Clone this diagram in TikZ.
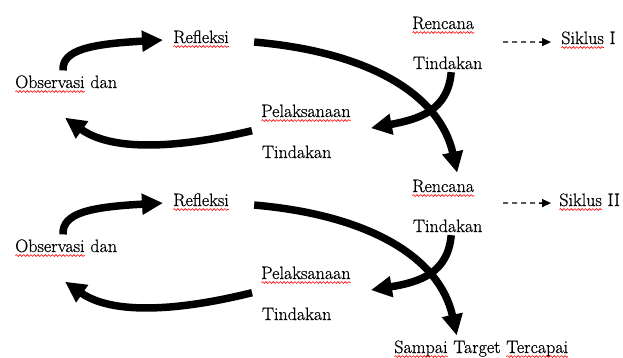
\documentclass[tikz,border=0pt]{standalone}
\usepackage{fontspec}
\newfontfamily\tnrfont[FakeBold=0.6]{Latin Modern Roman}
\usetikzlibrary{arrows.meta,decorations.pathmorphing}
\tikzset{
  lbl/.style={inner sep=0pt, outer sep=0pt, anchor=base west, font=\tnrfont\fontsize{18}{22}\selectfont},
  bigarrow/.style={line width=7.5pt, -{Triangle[length=21pt,width=20pt]}},
  dasharrow/.style={line width=1.4pt, dash pattern=on 5pt off 4pt, -{Triangle[length=9pt,width=8pt]}},
  wavyline/.style={red, line width=0.6pt, decorate, decoration={snake, segment length=3.6pt, amplitude=0.9pt}},
}
\newcommand\wv[1]{\tikz[baseline=(wvw.base)]{\node[inner sep=0pt,outer sep=0pt,anchor=base,font=\tnrfont\fontsize{18}{22}\selectfont] (wvw) at (0,0) {#1};\draw[wavyline] ([yshift=-3.5pt]wvw.base west) -- ([yshift=-3.5pt]wvw.base east);}}
\begin{document}
\begin{tikzpicture}[x=1pt,y=-1pt]
\useasboundingbox (0,0) rectangle (623,357);
% cycle 1
\node[lbl] (obs1) at (15,88) {\wv{Observasi} dan};
\node[lbl] (refl1) at (173,43) {\wv{Refleksi}};
\node[lbl] (pel1) at (261,117) {\wv{Pelaksanaan}};
\node[lbl] (tindL1) at (262,158) {Tindakan};
\node[lbl] (ren1) at (412,29) {\wv{Rencana}};
\node[lbl] (tindR1) at (413,69) {Tindakan};
\node[lbl] (sik1) at (561,44) {\wv{Siklus} I};
% cycle 2
\node[lbl] (obs2) at (15,252) {\wv{Observasi} dan};
\node[lbl] (refl2) at (173,206) {\wv{Refleksi}};
\node[lbl] (pel2) at (261,279) {\wv{Pelaksanaan}};
\node[lbl] (tindL2) at (262,320) {Tindakan};
\node[lbl] (ren2) at (412,192) {\wv{Rencana}};
\node[lbl] (tindR2) at (413,232) {Tindakan};
\node[lbl] (sik2) at (559,206) {\wv{Siklus} II};
\node[lbl] (samp) at (394,353) {\wv{Sampai} Target \wv{Tercapai}};
% arrows cycle 1
\draw[bigarrow] ([shift={(-3,-5)}]obs1.north) .. controls (62,50) and (90,44) .. ([shift={(-10,1)}]refl1.west);
\draw[bigarrow] ([shift={(25,3)}]refl1.east) .. controls (370,52) and (440,95) .. ([shift={(14,-7)}]ren2.north);
\draw[bigarrow] ([shift={(3.5,3)}]tindR1.south) .. controls (448,110) and (420,119) .. ([shift={(20,15)}]pel1.east);
\draw[bigarrow] ([shift={(-9,9)}]pel1.south west) .. controls (170,150) and (110,150) .. ([shift={(-1,25)}]obs1.south);
\coordinate (d1) at (503,42);
\draw[dasharrow] (d1) -- ([shift={(-10,2)}]sik1.west);
% arrows cycle 2
\draw[bigarrow] ([shift={(-3,-5)}]obs2.north) .. controls (62,213) and (90,207) .. ([shift={(-10,1)}]refl2.west);
\draw[bigarrow] ([shift={(25,3)}]refl2.east) .. controls (370,215) and (440,258) .. ([shift={(-24.5,-5)}]samp.north);
\draw[bigarrow] ([shift={(3.5,3)}]tindR2.south) .. controls (448,273) and (420,282) .. ([shift={(20,15)}]pel2.east);
\draw[bigarrow] ([shift={(-9,9)}]pel2.south west) .. controls (170,313) and (110,313) .. ([shift={(-1,25)}]obs2.south);
\coordinate (d2) at (503,203);
\draw[dasharrow] (d2) -- ([shift={(-8,1)}]sik2.west);
\end{tikzpicture}
\end{document}
